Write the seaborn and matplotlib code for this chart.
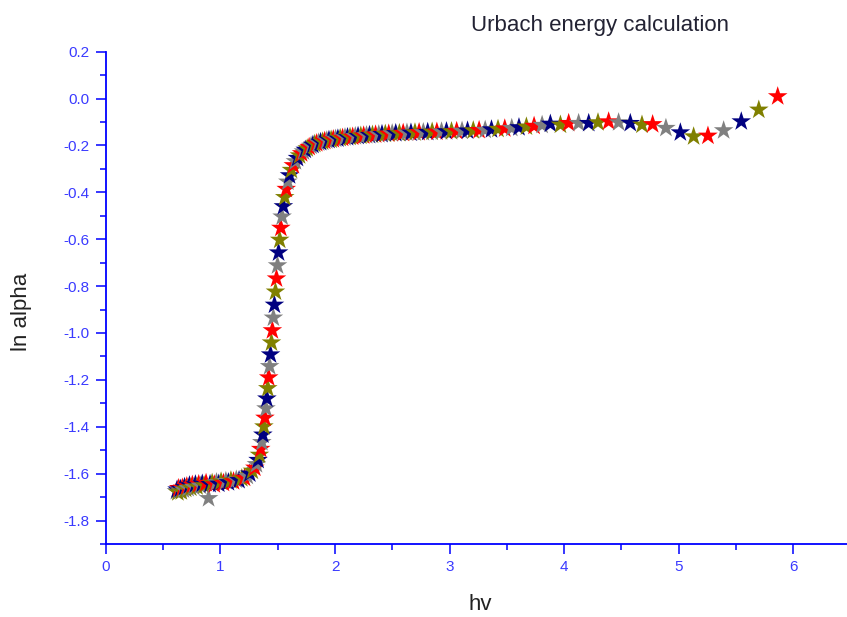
import numpy as np
import pandas as pd
import matplotlib
matplotlib.use("Agg")
import matplotlib.pyplot as plt
import matplotlib.ticker as mticker
import seaborn as sns

sns.set_theme(style="white")
plt.rcParams["font.family"] = ["Liberation Sans", "DejaVu Sans"]
plt.rcParams["axes.unicode_minus"] = False

# ── data: photon energy (eV) vs ln(alpha) ─────────────────────
hv_low = [0.615, 0.621, 0.628, 0.635, 0.642, 0.650, 0.658, 0.667, 0.676, 0.686,
          0.696, 0.706, 0.717, 0.729, 0.741, 0.754, 0.767, 0.781, 0.795, 0.810,
          0.825, 0.841, 0.857, 0.874, 0.896, 0.909, 0.927, 0.946, 0.965, 0.985,
          1.005, 1.026, 1.047, 1.069, 1.091, 1.114, 1.138, 1.162, 1.186, 1.210,
          1.234, 1.256, 1.278]
ln_low = [-1.675, -1.668, -1.680, -1.662, -1.672, -1.665, -1.676, -1.660, -1.668, -1.657,
          -1.665, -1.654, -1.662, -1.650, -1.660, -1.648, -1.657, -1.646, -1.655, -1.645,
          -1.652, -1.643, -1.650, -1.640, -1.705, -1.645, -1.640, -1.646, -1.637, -1.643,
          -1.634, -1.640, -1.632, -1.637, -1.629, -1.633, -1.626, -1.628, -1.620, -1.618,
          -1.610, -1.600, -1.588]

hv_edge = [1.300, 1.314, 1.328, 1.340, 1.351, 1.361, 1.370, 1.379, 1.388, 1.397,
           1.405, 1.413, 1.421, 1.429, 1.437, 1.445, 1.453, 1.462, 1.471, 1.480,
           1.489, 1.498, 1.507, 1.517, 1.527, 1.538, 1.549, 1.561, 1.574, 1.588,
           1.603, 1.619, 1.636, 1.654, 1.672, 1.690]
ln_edge = [-1.575, -1.560, -1.542, -1.520, -1.495, -1.466, -1.434, -1.399, -1.362, -1.322,
           -1.280, -1.236, -1.190, -1.142, -1.092, -1.041, -0.989, -0.935, -0.880, -0.824,
           -0.768, -0.712, -0.657, -0.603, -0.552, -0.504, -0.460, -0.421, -0.386, -0.355,
           -0.328, -0.305, -0.285, -0.268, -0.254, -0.243]

hv_flat = [1.708, 1.724, 1.740, 1.757, 1.774, 1.791, 1.807, 1.823, 1.840, 1.857,
           1.874, 1.892, 1.910, 1.928, 1.947, 1.966, 1.985, 2.005, 2.025, 2.045,
           2.066, 2.087, 2.109, 2.131, 2.154, 2.177, 2.201, 2.225, 2.250, 2.275,
           2.301, 2.327, 2.354, 2.382, 2.410, 2.439, 2.469, 2.499, 2.530, 2.562,
           2.595, 2.628, 2.663, 2.698, 2.734, 2.771, 2.809, 2.848, 2.889, 2.930,
           2.973, 3.017, 3.062, 3.109, 3.157, 3.207, 3.258, 3.311, 3.366, 3.423,
           3.482, 3.543, 3.606, 3.671, 3.738, 3.808, 3.880]
ln_flat = [-0.234, -0.226, -0.219, -0.213, -0.207, -0.202, -0.198, -0.194, -0.191, -0.188,
           -0.186, -0.184, -0.181, -0.179, -0.177, -0.176, -0.174, -0.172, -0.171, -0.169,
           -0.168, -0.166, -0.165, -0.164, -0.163, -0.161, -0.160, -0.159, -0.158, -0.157,
           -0.156, -0.155, -0.154, -0.153, -0.152, -0.151, -0.150, -0.149, -0.148, -0.148,
           -0.147, -0.146, -0.146, -0.145, -0.144, -0.144, -0.143, -0.142, -0.142, -0.141,
           -0.140, -0.140, -0.139, -0.138, -0.137, -0.136, -0.135, -0.134, -0.132, -0.130,
           -0.128, -0.126, -0.123, -0.120, -0.117, -0.113, -0.108]

hv_uv = [3.968, 4.040, 4.127, 4.215, 4.296, 4.389, 4.476, 4.578, 4.680, 4.773,
         4.889, 5.015, 5.131, 5.256, 5.393, 5.547, 5.700, 5.865]
ln_uv = [-0.112, -0.105, -0.105, -0.105, -0.102, -0.098, -0.102, -0.105, -0.112, -0.110,
         -0.126, -0.145, -0.162, -0.159, -0.136, -0.098, -0.048, 0.009]

marker_colors = ["#ff0000", "#808080", "#000080", "#808000"]  # red, gray, navy, olive

hv = hv_low + hv_edge + hv_flat + hv_uv
ln_alpha = ln_low + ln_edge + ln_flat + ln_uv
n = len(hv)
df = pd.DataFrame({"hv": hv, "ln_alpha": ln_alpha,
                   "grp": [(i - (n - 1)) % 4 for i in range(n)]})

# ── figure ────────────────────────────────────────────────────
fig = plt.figure(figsize=(8.47, 6.17), dpi=100)
ax = fig.add_axes([0.1251, 0.1183, 0.8749, 0.798])

sns.scatterplot(data=df, x="hv", y="ln_alpha", hue="grp",
                palette=dict(enumerate(marker_colors)), marker="*", s=220,
                linewidth=0, edgecolor="none", legend=False, ax=ax)

axis_blue = "#0000ff"
label_blue = "#3a3aff"
for side in ["top", "right"]:
    ax.spines[side].set_visible(False)
for side in ["left", "bottom"]:
    ax.spines[side].set_color(axis_blue)
    ax.spines[side].set_linewidth(1.3)

ax.set_xlim(0, 6.47)
ax.set_ylim(-1.9, 0.2)
ax.xaxis.set_major_locator(mticker.MultipleLocator(1))
ax.xaxis.set_minor_locator(mticker.MultipleLocator(0.5))
ax.yaxis.set_major_locator(mticker.MultipleLocator(0.2))
ax.yaxis.set_minor_locator(mticker.MultipleLocator(0.1))
ax.yaxis.set_major_formatter(mticker.FuncFormatter(lambda v, _: f"{v:.1f}"))
ax.xaxis.set_major_formatter(mticker.FuncFormatter(lambda v, _: f"{v:.0f}"))

ax.tick_params(which="major", direction="out", length=7.5, width=1.1,
               color=axis_blue, labelcolor=label_blue, labelsize=11, pad=4,
               bottom=True, left=True)
ax.tick_params(which="minor", direction="out", length=4, width=1.1,
               color=axis_blue, bottom=True, left=True)
ax.set_xlabel("")
ax.set_ylabel("")
ax.grid(False)

fig.text(600 / 847, 1 - 26 / 617, "Urbach energy calculation",
         ha="center", va="center", fontsize=16, color="#222233")
fig.text(480 / 847, 1 - 605 / 617, "hv", ha="center", va="center",
         fontsize=16, color="#222222")
fig.text(21 / 847, 1 - 312 / 617, "ln alpha", ha="center", va="center",
         rotation=90, fontsize=16, color="#222222")

fig.savefig("out.png", dpi=100)
